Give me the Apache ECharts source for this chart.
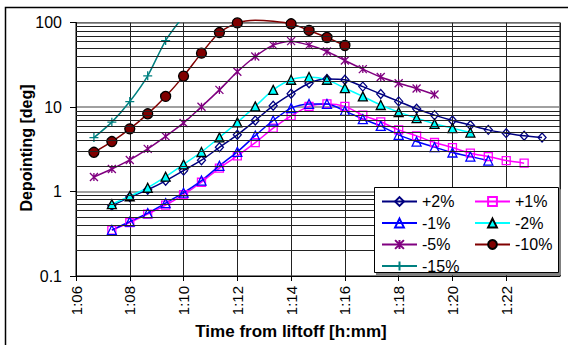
<!DOCTYPE html>
<html><head><meta charset="utf-8">
<script src="https://cdn.jsdelivr.net/npm/echarts@6/dist/echarts.min.js"></script>
<style>html,body{margin:0;padding:0;background:#fff}#c{width:569px;height:345px}</style>
</head><body><div id="c"></div>
<script>
// ---- data ----
const times = ['1:06:40','1:07:20','1:08:00','1:08:40','1:09:20','1:10:00','1:10:40','1:11:20','1:12:00','1:12:40',
  '1:13:20','1:14:00','1:14:40','1:15:20','1:16:00','1:16:40','1:17:20','1:18:00','1:18:40','1:19:20',
  '1:20:00','1:20:40','1:21:20','1:22:00','1:22:40','1:23:20'];
const seriesNames = ['+2%','+1%','-1%','-2%','-5%','-10%','-15%'];
const seriesStarts = ['1:07:20','1:07:20','1:07:20','1:07:20','1:06:40','1:06:40','1:06:40'];
const plus2  = [0.68,0.86,1.05,1.34,1.77,2.35,3.34,4.70,6.94,10.4,14.4,19.2,21.5,21.1,17.5,14.3,11.7,9.55,8.04,6.94,6.12,5.38,4.92,4.57,4.36];
const plus1  = [0.35,0.43,0.54,0.69,0.92,1.29,1.9,2.65,3.8,5.64,7.88,10.2,10.9,10.2,8.04,6.70,5.38,4.57,3.81,3.32,2.85,2.60,2.33,2.17];
const minus1 = [0.35,0.44,0.555,0.73,0.97,1.35,2.02,2.95,4.6,6.94,9.73,10.9,10.9,9.04,7.21,6.00,4.70,3.91,3.36,2.90,2.60,2.33];
const minus2 = [0.71,0.88,1.11,1.50,2.1,2.94,4.38,6.6,10.2,16.0,21.1,22.7,21.1,16.8,13.4,10.6,8.73,7.41,6.34,5.64,5.0];
const minus5 = [1.49,1.85,2.37,3.2,4.5,6.5,10.1,16.0,26.2,39.8,54.3,60.5,54.3,45.6,35.7,28.2,22.7,19.2,16.6,14.1];
const minus10 = [2.92,3.91,5.53,8.33,13.4,23.3,43.6,76.5,99.5,107,104,97,80.9,66.8,53.7];
const minus15 = [4.36,6.64,11.65,23.5,61.5,120];
const xTickLabels = ['1:06','1:08','1:10','1:12','1:14','1:16','1:18','1:20','1:22','1:24'];
const yTickLabels = ['0.1','1','10','100'];

// ---- rendering ----
const FONT = '"Liberation Sans", Arial, sans-serif';
const ASTER = 'path://M0,0L10,10M0,10L10,0M5,0L5,10';
const PLUS = 'path://M5,0L5,10M0,5L10,5';
const styles = [
  {color:'#000080', symbol:'diamond', size:[8,9], fill:'rgba(0,0,0,0)', border:'#000080'},
  {color:'#FF00FF', symbol:'rect', size:8, fill:'rgba(0,0,0,0)', border:'#FF00FF'},
  {color:'#0000FF', symbol:'triangle', size:9, fill:'rgba(0,0,0,0)', border:'#0000FF'},
  {color:'#00FFFF', symbol:'triangle', size:9, fill:'#00FFFF', border:'#000000'},
  {color:'#800080', symbol:ASTER, size:8, fill:'rgba(0,0,0,0)', border:'#800080'},
  {color:'#800000', symbol:'circle', size:10, fill:'#800000', border:'#000000'},
  {color:'#008080', symbol:PLUS, size:9, fill:'rgba(0,0,0,0)', border:'#008080'}
];
function toMin(s){const p=s.split(':').map(Number);return p[0]*60+p[1]+(p[2]||0)/60;}
const values = [plus2, plus1, minus1, minus2, minus5, minus10, minus15];
const series = seriesNames.map((name,i)=>{
  const s0 = times.indexOf(seriesStarts[i]);
  const st = styles[i];
  return {
    name, type:'line', smooth:0.25, z:3,
    clip: name !== '-10%',
    data: values[i].map((v,k)=>{const it={value:[toMin(times[s0+k]), v]}; if(v>100) it.symbol='none'; return it;}),
    symbol: st.symbol, symbolSize: st.size, showAllSymbol:true,
    lineStyle:{color:st.color,width:1.5},
    itemStyle:{color:st.fill,borderColor:st.border,borderWidth:1.3},
    emphasis:{disabled:true}, animation:false
  };
});
const minorVals = [];
[0.1,1,10].forEach(d=>{for(let m=2;m<=9;m++) minorVals.push(+(m*d).toPrecision(3));});
series.unshift({type:'line', data:[], silent:true, z:1, animation:false,
  markLine:{silent:true, animation:false, symbol:['none','none'], label:{show:false},
    lineStyle:{color:'#222',width:1,type:'solid'}, emphasis:{disabled:true},
    data:minorVals.map(v=>({yAxis:v}))}});

const legendCommon = {orient:'vertical', top:193.5, itemWidth:35, itemHeight:11, itemGap:5.5, padding:0,
  selectedMode:false, z:12, textStyle:{fontSize:16,fontFamily:FONT,color:'#000'}};

const chart = echarts.init(document.getElementById('c'), null, {renderer:'svg'});
chart.setOption({
  animation:false,
  backgroundColor:'#fff',
  textStyle:{fontFamily:FONT},
  grid:{left:76, right:9, top:22.7, bottom:69, show:true, borderColor:'#000', borderWidth:1},
  xAxis:{type:'value', min:66, max:84, interval:2,
    axisLine:{show:true,lineStyle:{color:'#000',width:1}},
    axisTick:{show:true,length:5,lineStyle:{color:'#000'}},
    axisLabel:{rotate:90, fontSize:15, margin:10, color:'#000', fontFamily:FONT, showMaxLabel:false,
      formatter:v=>xTickLabels[Math.round((v-66)/2)]},
    splitLine:{show:true,lineStyle:{color:'#222',width:1}}},
  yAxis:{type:'log', logBase:10, min:0.1, max:100,
    axisLine:{show:true,lineStyle:{color:'#000',width:1}},
    axisTick:{show:true,length:6,lineStyle:{color:'#000'}},
    axisLabel:{color:'#000',fontSize:16,fontFamily:FONT,margin:14,
      formatter:v=>yTickLabels[Math.round(Math.log10(v))+1]},
    splitLine:{show:true,lineStyle:{color:'#808080',width:1.5}}},
  legend:[
    Object.assign({left:381, data:['+2%','-1%','-5%','-15%']}, legendCommon),
    Object.assign({left:474, data:['+1%','-2%','-10%']}, legendCommon)
  ],
  graphic:[
    {type:'polyline', z:20, silent:true, shape:{points:[[5.5,345],[5.5,7.5],[568,7.5]]}, style:{stroke:'#000',lineWidth:1.5,fill:null}},
    {type:'rect', z:10, silent:true, shape:{x:376,y:189.3,width:185,height:86}, style:{fill:'#808080'}},
    {type:'rect', z:10, silent:true, shape:{x:374.5,y:187.5,width:184,height:85}, style:{fill:'#fff',stroke:'#000',lineWidth:1}},
    {type:'text', z:20, silent:true, x:26.7, y:148, rotation:Math.PI/2,
      style:{text:'Depointing [deg]', font:'bold 16px '+FONT, fill:'#000', textAlign:'center', textVerticalAlign:'middle'}},
    {type:'text', z:20, silent:true, x:291, y:331.7,
      style:{text:'Time from liftoff [h:mm]', font:'bold 17px '+FONT, fill:'#000', textAlign:'center', textVerticalAlign:'middle'}}
  ],
  series
});
</script></body></html>
